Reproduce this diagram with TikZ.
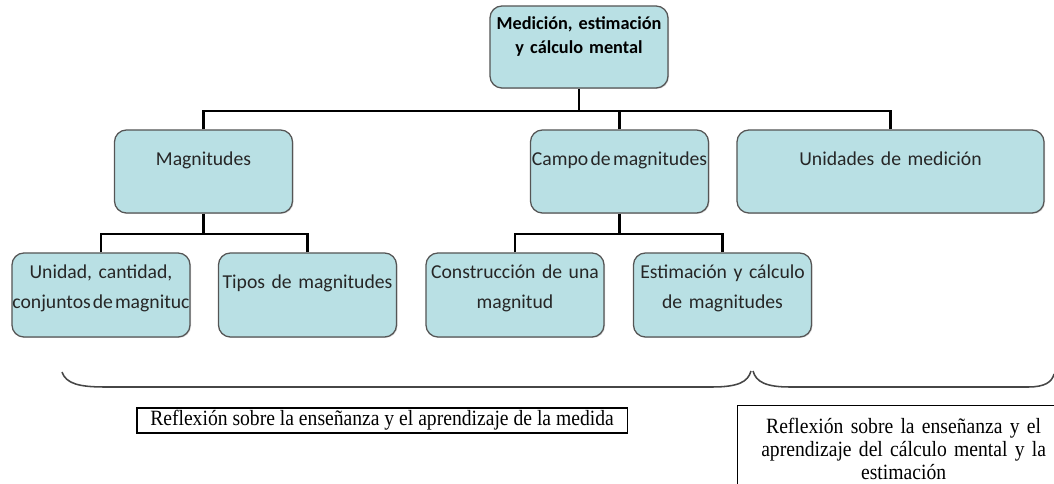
\documentclass[tikz,border=0pt]{standalone}
\usepackage{fontspec}
\usetikzlibrary{shadows}
\newfontfamily\boxfont{Carlito}
\newfontfamily\reflfont[FakeStretch=0.9]{Liberation Serif}
\definecolor{boxfill}{RGB}{185,224,228}
\definecolor{boxline}{RGB}{85,85,85}
\definecolor{boxtext}{RGB}{38,38,38}
\definecolor{bracegray}{RGB}{70,70,70}
\begin{document}
\begin{tikzpicture}[x=0.025cm,y=-0.025cm,
    mbox/.style={draw=boxline,fill=boxfill,rounded corners=0.3cm,line width=0.9pt,inner sep=0pt,
      align=center,text width=4.45cm,text=boxtext,font=\boxfont\fontsize{14}{21.3}\selectfont,
      drop shadow={shadow xshift=0.7pt,shadow yshift=-0.7pt,opacity=0.3}},
    link/.style={line width=2.1pt},
    rbox/.style={draw,line width=0.8pt,inner sep=0pt,font=\reflfont\fontsize{15.5}{16.4}\selectfont}]
      \useasboundingbox (0,0) rectangle (1054,484);
      \clip (0,0) rectangle (1054,484);
      \node[mbox,text height=0.6cm,text depth=1.45cm,font=\boxfont\bfseries\fontsize{13}{17}\selectfont,text=black]
        (medicion) at (579,47) {Medición, estimación\\y cálculo mental};
      \node[mbox,text height=0.9cm,text depth=1.175cm] (magnitudes) at (203.5,171.5) {Magnitudes};
      \node[mbox,text height=0.9cm,text depth=1.175cm] (campo) at (619.5,171.5)
        {\mbox{\spaceskip=0.12em Campo de magnitudes}};
      \node[mbox,text height=0.9cm,text depth=1.175cm,text width=7.675cm] (unidades) at (890.5,171.5) {Unidades de medición};
      \node[mbox,text height=0.65cm,text depth=1.45cm] (unidad) at (101,295)
        {Unidad, cantidad,\\{\spaceskip=0.1em conjuntos de magnituc}};
      \node[mbox,text height=0.9cm,text depth=1.2cm] (tipos) at (307.5,295) {Tipos de magnitudes};
      \node[mbox,text height=0.65cm,text depth=1.45cm] (construccion) at (515,295) {Construcción de una\\magnitud};
      \node[mbox,text height=0.65cm,text depth=1.45cm] (estimacion) at (722.5,295) {Estimación y cálculo\\de magnitudes};
      \coordinate (hub) at (579,111);
      \coordinate (maghub) at (203.5,234);
      \coordinate (campohub) at (619.5,234);
      \draw[link] (medicion.south) -- (hub);
      \draw[link] (magnitudes.north) |- (hub);
      \draw[link] (campo.north) |- (hub);
      \draw[link] (unidades.north) |- (hub);
      \draw[link] (magnitudes.south) -- (maghub);
      \draw[link] (unidad.north) |- (maghub);
      \draw[link] (tipos.north) |- (maghub);
      \draw[link] (campo.south) -- (campohub);
      \draw[link] (construccion.north) |- (campohub);
      \draw[link] (estimacion.north) |- (campohub);
      \draw[bracegray,line width=1.1pt] (62,372) .. controls (66,384) and (80,387) .. (105,387) -- (712,387)
        .. controls (738,387) and (748,382) .. (751,371);
      \draw[bracegray,line width=1.1pt] (753,371) .. controls (756,382) and (766,387) .. (790,387) -- (1028,387)
        .. controls (1045,387) and (1052,382) .. (1054,374);
      \node[rbox,minimum width=12.25cm,minimum height=0.625cm] (medida) at (382,420.5)
        {Reflexión sobre la enseñanza y el aprendizaje de la medida};
      \node[rbox,anchor=north west,align=center,text width=8.3cm,text height=0.7cm,text depth=1.5cm] (calculo) at (737,405)
        {Reflexión sobre la enseñanza y el\\aprendizaje del cálculo mental y la\\estimación};
    \end{tikzpicture}
\end{document}
